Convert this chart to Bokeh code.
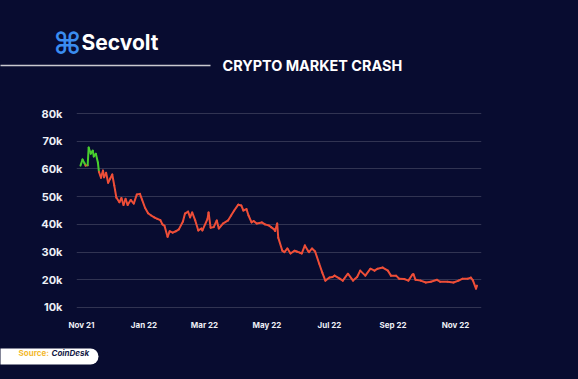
import pandas as pd
from bokeh.plotting import figure
from bokeh.layouts import column
from bokeh.models import Range1d, FixedTicker, Label, BoxAnnotation, ColumnDataSource
from bokeh.embed import file_html
from bokeh.resources import INLINE

# ---------------- data ----------------
dates = [
    "2021-10-31", "2021-11-02", "2021-11-04", "2021-11-05", "2021-11-07", "2021-11-08",
    "2021-11-10", "2021-11-12", "2021-11-13", "2021-11-15", "2021-11-17", "2021-11-18",
    "2021-11-20", "2021-11-22", "2021-11-23", "2021-11-25", "2021-11-27", "2021-11-29",
    "2021-12-01", "2021-12-03", "2021-12-05", "2021-12-08", "2021-12-10", "2021-12-12",
    "2021-12-14", "2021-12-16", "2021-12-19", "2021-12-22", "2021-12-25", "2021-12-28",
    "2021-12-30", "2022-01-02", "2022-01-05", "2022-01-08", "2022-01-11", "2022-01-14",
    "2022-01-17", "2022-01-19", "2022-01-21", "2022-01-24", "2022-01-26", "2022-01-29",
    "2022-02-01", "2022-02-04", "2022-02-08", "2022-02-10", "2022-02-13", "2022-02-15",
    "2022-02-17", "2022-02-20", "2022-02-23", "2022-02-26", "2022-02-27", "2022-03-04",
    "2022-03-05", "2022-03-07", "2022-03-10", "2022-03-13", "2022-03-15", "2022-03-19",
    "2022-03-24", "2022-03-27", "2022-03-30", "2022-04-03", "2022-04-06", "2022-04-08",
    "2022-04-11", "2022-04-13", "2022-04-16", "2022-04-18", "2022-04-21", "2022-04-26",
    "2022-04-29", "2022-05-03", "2022-05-05", "2022-05-08", "2022-05-09", "2022-05-11",
    "2022-05-12", "2022-05-16", "2022-05-18", "2022-05-21", "2022-05-24", "2022-05-28",
    "2022-05-30", "2022-06-02", "2022-06-04", "2022-06-07", "2022-06-10", "2022-06-11",
    "2022-06-14", "2022-06-17", "2022-06-21", "2022-06-24", "2022-06-27", "2022-07-01",
    "2022-07-04", "2022-07-06", "2022-07-11", "2022-07-14", "2022-07-19", "2022-07-24",
    "2022-07-28", "2022-07-31", "2022-08-05", "2022-08-10", "2022-08-14", "2022-08-17",
    "2022-08-22", "2022-08-27", "2022-08-30", "2022-09-04", "2022-09-07", "2022-09-12",
    "2022-09-16", "2022-09-20", "2022-09-21", "2022-09-23", "2022-09-28", "2022-10-03",
    "2022-10-08", "2022-10-14", "2022-10-17", "2022-10-24", "2022-10-30", "2022-11-04",
    "2022-11-08", "2022-11-13", "2022-11-16", "2022-11-18", "2022-11-21", "2022-11-22",
]
prices = [
    61200, 63400, 62000, 61200, 61300, 67700,
    65500, 66600, 64500, 65500, 62300, 59000,
    56800, 59400, 57000, 58600, 55000, 56500,
    58000, 54000, 49700, 48000, 49500, 47000,
    49200, 47000, 48800, 47500, 50800, 51000,
    49000, 46000, 44000, 43200, 42500, 42000,
    41500, 40000, 39500, 35500, 37500, 37000,
    37500, 38200, 41000, 43900, 44600, 42500,
    44300, 41400, 37800, 38500, 37800, 42000,
    44300, 38800, 39000, 41400, 38500, 40300,
    41400, 43200, 45000, 47100, 46800, 45000,
    45500, 43200, 40700, 41200, 40300, 40700,
    40000, 39600, 39000, 38200, 37600, 40300,
    35200, 30500, 30000, 31300, 29500, 30500,
    30200, 29800, 29500, 32400, 30500, 30000,
    31300, 30200, 25800, 22600, 19700, 20800,
    21000, 21500, 20400, 19700, 22200, 19700,
    21000, 23300, 21500, 24000, 23300, 24000,
    24400, 23300, 21500, 21500, 20400, 20300,
    19700, 21900, 22000, 20000, 19700, 19000,
    19300, 20000, 19300, 19300, 19000, 19700,
    20400, 20400, 20800, 19800, 16800, 17900,
]
rise_threshold = 61500  # segments above this level drawn green

y_ticks = [10000, 20000, 30000, 40000, 50000, 60000, 70000, 80000]
y_tick_labels = ["10k", "20k", "30k", "40k", "50k", "60k", "70k", "80k"]
x_tick_dates = ["2021-11-01", "2022-01-01", "2022-03-01", "2022-05-01",
                "2022-07-01", "2022-09-01", "2022-11-01"]
x_tick_labels = ["Nov 21", "Jan 22", "Mar 22", "May 22", "Jul 22", "Sep 22", "Nov 22"]

title_text = "CRYPTO MARKET CRASH"
brand_text = "Secvolt"
source_label = "Source:"
source_name = "CoinDesk"

# ---------------- style ----------------
BG = "#080c30"
RED = "#ee4e38"
GREEN = "#49cf2e"
W = 578
H_HEAD, H_CHART, H_FOOT = 100, 235, 44
DY = -7  # label baseline correction


def blank(h):
    f = figure(width=W, height=h, x_range=Range1d(0, 1), y_range=Range1d(0, 1),
               output_backend="svg", toolbar_location=None,
               x_axis_location=None, y_axis_location=None,
               min_border=0, min_border_left=0, min_border_right=0,
               min_border_top=0, min_border_bottom=0, frame_align=False)
    f.background_fill_color = BG
    f.border_fill_color = BG
    f.outline_line_color = None
    f.grid.visible = False
    return f


# ---------------- header ----------------
head = blank(H_HEAD)
head.add_layout(Label(x=67, y=43, x_units="canvas", y_units="canvas", text="\u2318",
                      text_color="#3a8cf0", text_font="DejaVu Sans", text_font_size="30px",
                      text_font_style="bold", text_align="center", text_baseline="middle"))
head.add_layout(Label(x=81, y=49 + DY, x_units="canvas", y_units="canvas", text=brand_text,
                      text_color="#ffffff", text_font="Inter", text_font_size="21px",
                      text_font_style="bold", text_align="left", text_baseline="alphabetic"))
head.add_layout(BoxAnnotation(left=-5, right=210, top=64.3, bottom=65.8,
                              left_units="canvas", right_units="canvas",
                              top_units="canvas", bottom_units="canvas",
                              fill_color="#c9c9cf", fill_alpha=1, line_color=None))
head.add_layout(Label(x=222, y=72 + DY, x_units="canvas", y_units="canvas", text=title_text,
                      text_color="#ffffff", text_font="Inter", text_font_size="14.4px",
                      text_font_style="bold", text_align="left", text_baseline="alphabetic"))

# ---------------- chart ----------------
dt = pd.to_datetime(dates)
x0 = list(dt[:-1]); x1 = list(dt[1:])
y0 = prices[:-1]; y1 = prices[1:]
colors = [GREEN if max(a, b) > rise_threshold else RED for a, b in zip(y0, y1)]
src = ColumnDataSource(dict(x0=x0, x1=x1, y0=y0, y1=y1, c=colors))

base = pd.Timestamp("2021-11-01")
px_per_day = 374 / 365.0
x_start = base - pd.Timedelta(days=5 / px_per_day)
x_end = base + pd.Timedelta(days=400 / px_per_day)
y_pad = 10000 / 27.7

p = figure(width=W, height=H_CHART, x_axis_type="datetime",
           x_range=Range1d(x_start, x_end),
           y_range=Range1d(10000 - y_pad, 80000 + y_pad),
           output_backend="svg", toolbar_location=None,
           min_border_left=76, min_border_right=97,
           min_border_top=12, min_border_bottom=27, frame_align=False)

p.background_fill_color = BG
p.border_fill_color = BG
p.outline_line_color = None
p.xgrid.grid_line_color = None
p.ygrid.grid_line_color = "#ffffff"
p.ygrid.grid_line_alpha = 0.17
p.ygrid.grid_line_width = 1

p.yaxis.ticker = FixedTicker(ticks=y_ticks)
p.yaxis.major_label_overrides = {t: l for t, l in zip(y_ticks, y_tick_labels)}
x_ms = [int(pd.Timestamp(d).timestamp() * 1000) for d in x_tick_dates]
p.xaxis.ticker = FixedTicker(ticks=x_ms)
p.xaxis.major_label_overrides = {t: l for t, l in zip(x_ms, x_tick_labels)}

for ax in (p.xaxis, p.yaxis):
    ax.axis_line_color = None
    ax.major_tick_line_color = None
    ax.minor_tick_line_color = None
    ax.major_label_text_color = "#eef0f6"
    ax.major_label_text_font = "Inter"
    ax.major_label_text_font_style = "bold"
p.yaxis.major_label_text_font_size = "11px"
p.yaxis.major_label_standoff = 8
p.xaxis.major_label_text_font_size = "8px"
p.xaxis.major_label_standoff = 5

p.segment(x0="x0", y0="y0", x1="x1", y1="y1", line_color="c", line_width=2,
          line_cap="round", source=src)

# ---------------- footer ----------------
foot = blank(H_FOOT)
foot.add_layout(BoxAnnotation(left=-20, right=98, top=13, bottom=29,
                              left_units="canvas", right_units="canvas",
                              top_units="canvas", bottom_units="canvas",
                              fill_color="#ffffff", fill_alpha=1, line_color=None,
                              border_radius=8))
foot.add_layout(Label(x=18, y=24 + DY, x_units="canvas", y_units="canvas", text=source_label,
                      text_color="#f3b92f", text_font="Inter", text_font_size="8px",
                      text_font_style="bold", text_align="left", text_baseline="alphabetic"))
foot.add_layout(Label(x=51, y=24 + DY, x_units="canvas", y_units="canvas", text=source_name,
                      text_color="#141a46", text_font="Inter", text_font_size="8px",
                      text_font_style="bold italic", text_align="left",
                      text_baseline="alphabetic"))

layout = column(head, p, foot, spacing=0)
html = file_html(layout, INLINE)
html = html.replace("</head>", "<style>html,body{background:%s;}</style></head>" % BG, 1)
open("out.html", "w").write(html)
